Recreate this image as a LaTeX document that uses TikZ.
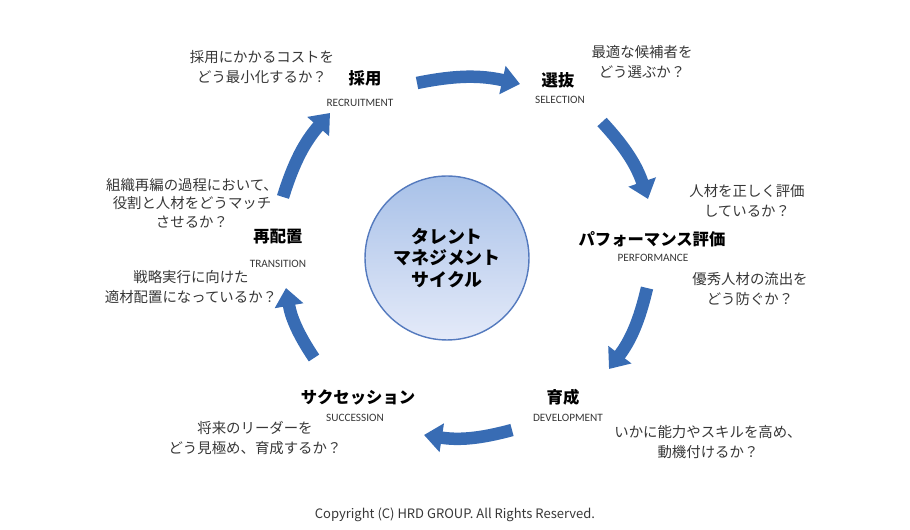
\documentclass[tikz,border=0pt]{standalone}
\usepackage{fontspec}
\setmainfont{Noto Sans CJK JP}
\newfontfamily\engfont{Carlito}
\usepackage{tikz}
\usetikzlibrary{arrows.meta}
\definecolor{cycblue}{RGB}{56,108,180}
\definecolor{hubline}{RGB}{84,122,190}
\definecolor{hubtop}{RGB}{168,193,232}
\definecolor{hubbot}{RGB}{228,234,249}
\definecolor{qgray}{RGB}{55,55,55}
\tikzset{
  stage/.style={font=\fontsize{9.3}{11}\selectfont\bfseries, text=black, inner sep=0pt},
  eng/.style={font=\engfont\fontsize{6.4}{7.5}\selectfont, text=qgray, inner sep=0pt},
  quest/.style={font=\fontsize{8.2}{11.2}\selectfont, text=qgray, align=center, inner sep=0pt},
  hub/.style={circle, draw=hubline, line width=0.8pt, top color=hubtop, bottom color=hubbot,
    minimum size=3.28cm, align=center, font=\fontsize{10.2}{12.2}\selectfont\bfseries},
  cyc/.style={-{Triangle[length=3.6mm, width=5.6mm]}, line width=2.5mm, color=cycblue}
}
\begin{document}
\begin{tikzpicture}[x=0.02cm, y=0.02cm]
  \useasboundingbox (0,0) rectangle (910,530);

  % centre
  \node [hub] (hub) at (447,272) {タレント\\マネジメント\\サイクル};

  % stages
  \node [stage] (recruit) at (365,452) {採用};
  \node [eng] (recruiten) at (360,427) {RECRUITMENT};
  \node [stage] (select) at (558,450) {選抜};
  \node [eng] (selecten) at (560,430) {SELECTION};
  \node [stage] (perform) at (652,291) {パフォーマンス評価};
  \node [eng] (performen) at (653,272) {PERFORMANCE};
  \node [stage] (develop) at (563,133) {育成};
  \node [eng] (developen) at (568,112) {DEVELOPMENT};
  \node [stage] (success) at (358,133) {サクセッション};
  \node [eng] (successen) at (355,112) {SUCCESSION};
  \node [stage] (trans) at (278,293) {再配置};
  \node [eng] (transen) at (278,266) {TRANSITION};

  % questions
  \node [quest] (qrecruit) at (262,463) {採用にかかるコストを\\どう最小化するか？};
  \node [quest] (qselect) at (642,468) {最適な候補者を\\どう選ぶか？};
  \node [quest] (qperform) at (747,329) {人材を正しく評価\\しているか？};
  \node [quest] (qkeep) at (750,241) {優秀人材の流出を\\どう防ぐか？};
  \node [quest] (qdevelop) at (708,88) {いかに能力やスキルを高め、\\動機付けるか？};
  \node [quest] (qsuccess) at (255,92) {将来のリーダーを\\どう見極め、育成するか？};
  \node [quest, font=\fontsize{8.2}{10.6}\selectfont] (qreorg) at (192,327) {組織再編の過程において、\\役割と人材をどうマッチ\\させるか？};
  \node [quest] (qplace) at (191,243) {戦略実行に向けた\\適材配置になっているか？};

  % arrow ends
  \coordinate (a1) at (417,447);
  \coordinate (b1) at (520,446);
  \coordinate (a2) at (602,408);
  \coordinate (b2) at (648,331);
  \coordinate (a3) at (647,242);
  \coordinate (b3) at (609,161);
  \coordinate (a4) at (512,100);
  \coordinate (b4) at (424,95);
  \coordinate (a5) at (314,172);
  \coordinate (b5) at (286,242);
  \coordinate (a6) at (283,333);
  \coordinate (b6) at (330,417);

  \draw [cyc] (a1) to[bend left=12] (b1);
  \draw [cyc] (a2) to[bend left=12] (b2);
  \draw [cyc] (a3) to[bend left=12] (b3);
  \draw [cyc] (a4) to[bend left=12] (b4);
  \draw [cyc] (a5) to[bend left=12] (b5);
  \draw [cyc] (a6) to[bend left=12] (b6);

  \node [font=\fontsize{7.4}{9}\selectfont, text=qgray] (copy) at (455,15) {Copyright (C) HRD GROUP. All Rights Reserved.};
\end{tikzpicture}
\end{document}
